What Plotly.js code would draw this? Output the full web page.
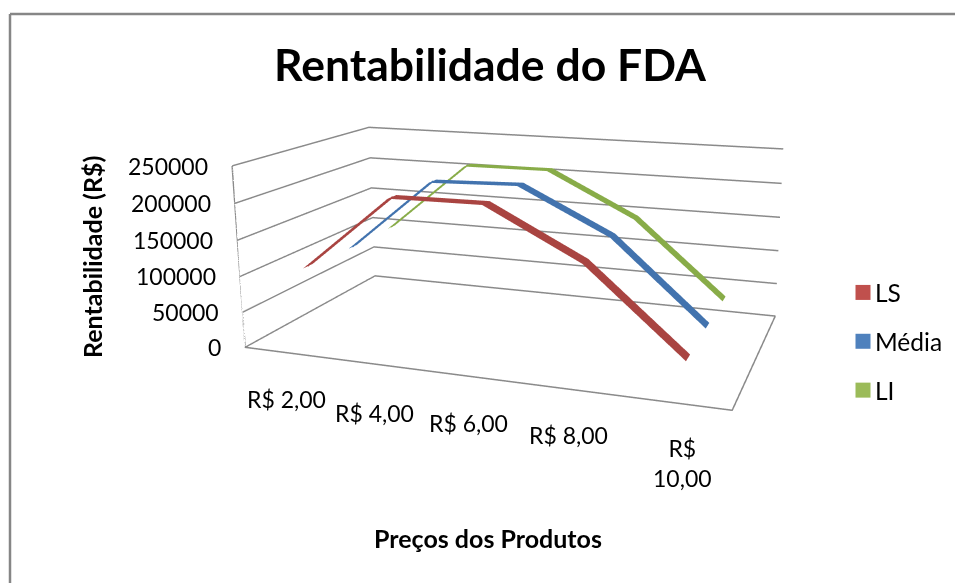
<!DOCTYPE html>
<html><head><meta charset="utf-8">
<script src="https://cdn.plot.ly/plotly-3.0.1.min.js"></script>
<style>html,body{margin:0;padding:0;background:#fff;width:955px;height:583px;overflow:hidden}
#g{position:absolute;left:0;top:-223px;width:1124px;height:887px}</style>
</head><body><div id="g"></div>
<script>
const prices=[2,4,6,8,10];
const priceLabels=['R$ 2,00','R$ 4,00','R$ 6,00','R$ 8,00','R$<br>10,00'];
const seriesNames=['LS','Média','LI'];
const LS=[104000,210000,211000,146000,35000];
const Media=[101000,208000,212000,150000,37000];
const LI=[103000,210000,211000,148000,38000];
const zTicks=[0,50000,100000,150000,200000,250000];
const legendColors=['#C0504D','#4F81BD','#9BBB59'];
const ribbonColors=['#A94441','#4273AE','#88AC48'];
const depthPos=[0.5,1.5,2.5];
const seriesVals=[LS,Media,LI];
const W=1124,H=887,TOP=223;
const px=x=>x/W, py=y=>1-(y+TOP)/H;
const FONT='Lato, "Open Sans", sans-serif';
const halfRibbon=0.1;
let traces=[];
seriesVals.forEach((v,i)=>{
  const c=ribbonColors[i];
  traces.push({type:'surface',x:prices,y:[depthPos[i]-halfRibbon,depthPos[i]+halfRibbon],z:[v,v],
    colorscale:[[0,c],[1,c]],showscale:false,showlegend:false,hoverinfo:'skip',
    lighting:{ambient:1,diffuse:0,specular:0,fresnel:0,roughness:1},contours:{x:{show:false},y:{show:false},z:{show:false}}});
  traces.push({type:'scatter3d',mode:'lines',x:prices,y:prices.map(()=>depthPos[i]),z:v,line:{color:c,width:2},showlegend:false,hoverinfo:'skip'});
});
seriesNames.forEach((n,i)=>{
  traces.push({type:'scatter3d',mode:'markers',name:n,legendgroup:n,x:[null],y:[null],z:[null],
    marker:{symbol:'square',size:15,color:legendColors[i]},hoverinfo:'skip'});
});
const xr=[1,11],yr=[0,3],zr=[0,250000];
traces.push({type:'scatter3d',mode:'lines',showlegend:false,hoverinfo:'skip',line:{color:'#8a8a8a',width:3},
  x:[xr[0],xr[1],xr[1],xr[0],xr[0],xr[0]],y:[yr[0],yr[0],yr[1],yr[1],yr[0],yr[0]],z:[0,0,0,0,0,zr[1]]});
const xShift=[-1,-2,-2,-1,6], yShift=[-46,-49,-47,-46,-60];
const ann3d=[];
prices.forEach((p,i)=>ann3d.push({x:p,y:0,z:0,text:priceLabels[i],showarrow:false,xanchor:'center',yanchor:'middle',xshift:xShift[i],yshift:yShift[i],font:{family:FONT,size:23,color:'#000'}}));
zTicks.forEach((t,i)=>ann3d.push({x:xr[0],y:0,z:t,text:String(t),showarrow:false,xanchor:'right',yanchor:'middle',xshift:-22,font:{family:FONT,size:23,color:'#000'}}));
const noAxis={showgrid:false,zeroline:false,showticklabels:false,ticks:'',showspikes:false,showbackground:false,showline:false,title:{text:''}};
const layout={width:W,height:H,margin:{l:0,r:0,t:0,b:0},paper_bgcolor:'#fff',font:{family:FONT,color:'#000'},
  title:{text:'<b>Rentabilidade do FDA</b>',x:px(490),y:py(65),xref:'paper',yref:'paper',xanchor:'center',yanchor:'middle',font:{family:FONT,size:44.5,color:'#000'}},
  legend:{x:px(843),y:py(270),xanchor:'left',yanchor:'top',tracegroupgap:14,font:{family:FONT,size:24.5,color:'#000'},bgcolor:'rgba(0,0,0,0)'},
  annotations:[
   {xref:'paper',yref:'paper',x:px(92),y:py(257),xanchor:'center',yanchor:'middle',text:'<b>Rentabilidade (R$)</b>',textangle:-90,showarrow:false,font:{family:FONT,size:25,color:'#000'}},
   {xref:'paper',yref:'paper',x:px(488),y:py(538),xanchor:'center',yanchor:'middle',text:'<b>Preços dos Produtos</b>',showarrow:false,font:{family:FONT,size:25,color:'#000'}}
  ],
  shapes:[
   {type:'line',xref:'paper',yref:'paper',x0:px(10),y0:py(14),x1:px(955),y1:py(14),line:{color:'#868686',width:2.5}},
   {type:'line',xref:'paper',yref:'paper',x0:px(10),y0:py(14),x1:px(10),y1:py(583),line:{color:'#868686',width:2.5}}
  ],
  scene:{domain:{x:[0,1],y:[0,1]},aspectmode:'manual',aspectratio:{x:1,y:0.552,z:0.377},
    camera:{eye:{x:0.779,y:-2.032,z:0.567},center:{x:0.078,y:0.039,z:0.0515},up:{x:0,y:0,z:1},projection:{type:'perspective'}},
    xaxis:Object.assign({},noAxis,{range:xr}),
    yaxis:Object.assign({},noAxis,{range:yr}),
    zaxis:Object.assign({},noAxis,{range:zr,showgrid:true,gridcolor:'#8a8a8a',gridwidth:3,dtick:50000,tick0:0}),
    annotations:ann3d}
};
Plotly.newPlot('g',traces,layout,{displayModeBar:false}).then(()=>{
  document.querySelectorAll('.legendtext').forEach(t=>t.setAttribute('x',+t.getAttribute('x')-8));
});
</script></body></html>
